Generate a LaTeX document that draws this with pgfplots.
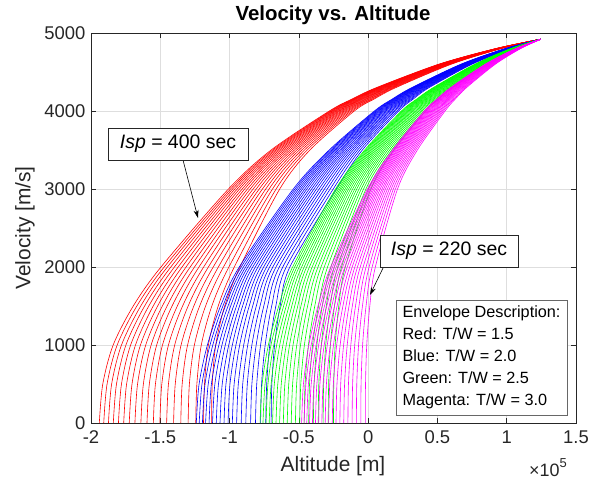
\documentclass[border=0pt]{standalone}
\usepackage{pgfplots}
\pgfplotsset{compat=1.18}
\usepackage{pgfplotstable}
\usepackage{fontspec}
\setmainfont{Liberation Sans}
\usetikzlibrary{arrows.meta}
\definecolor{axgray}{rgb}{0.15,0.15,0.15}
\definecolor{mred}{rgb}{1,0,0}
\definecolor{mblue}{rgb}{0,0,1}
\definecolor{mgreen}{rgb}{0,1,0}
\definecolor{mmag}{rgb}{1,0,1}

\pgfplotstableread{
v c0 c1 c2 c3 c4 c5 c6 c7 c8 c9 c10 c11 c12 c13 c14 c15 c16 c17 c18
0 -1.940 -1.908 -1.874 -1.839 -1.802 -1.764 -1.724 -1.683 -1.640 -1.596 -1.550 -1.503 -1.454 -1.404 -1.352 -1.299 -1.244 -1.188 -1.130
500 -1.915 -1.884 -1.851 -1.816 -1.780 -1.743 -1.704 -1.664 -1.622 -1.579 -1.535 -1.489 -1.441 -1.392 -1.342 -1.290 -1.236 -1.181 -1.125
1000 -1.840 -1.811 -1.780 -1.748 -1.714 -1.679 -1.643 -1.605 -1.566 -1.526 -1.484 -1.441 -1.396 -1.350 -1.303 -1.254 -1.204 -1.153 -1.100
1500 -1.695 -1.669 -1.641 -1.613 -1.583 -1.551 -1.519 -1.485 -1.451 -1.415 -1.377 -1.339 -1.299 -1.258 -1.216 -1.173 -1.128 -1.082 -1.035
2000 -1.495 -1.472 -1.449 -1.424 -1.398 -1.371 -1.343 -1.314 -1.284 -1.253 -1.221 -1.187 -1.153 -1.118 -1.081 -1.044 -1.005 -0.966 -0.925
3000 -1.008 -0.993 -0.978 -0.962 -0.945 -0.928 -0.909 -0.891 -0.871 -0.851 -0.830 -0.808 -0.786 -0.763 -0.739 -0.715 -0.690 -0.664 -0.638
3500 -0.700 -0.689 -0.677 -0.665 -0.652 -0.639 -0.625 -0.611 -0.596 -0.581 -0.565 -0.549 -0.532 -0.515 -0.497 -0.478 -0.459 -0.440 -0.420
4000 -0.280 -0.273 -0.265 -0.258 -0.249 -0.241 -0.232 -0.223 -0.213 -0.204 -0.193 -0.183 -0.172 -0.161 -0.149 -0.138 -0.125 -0.113 -0.100
4150 -0.120 -0.114 -0.107 -0.100 -0.093 -0.085 -0.077 -0.069 -0.061 -0.052 -0.043 -0.034 -0.024 -0.014 -0.004 0.007 0.018 0.029 0.040
4300 0.060 0.066 0.071 0.078 0.084 0.091 0.097 0.105 0.112 0.120 0.127 0.136 0.144 0.153 0.162 0.171 0.180 0.190 0.200
4600 0.510 0.514 0.517 0.521 0.525 0.530 0.534 0.539 0.543 0.548 0.553 0.559 0.564 0.570 0.575 0.581 0.587 0.594 0.600
4800 0.920 0.922 0.923 0.925 0.927 0.929 0.931 0.933 0.935 0.937 0.939 0.942 0.944 0.947 0.949 0.952 0.954 0.957 0.960
4920 1.245 1.245 1.245 1.245 1.245 1.245 1.245 1.245 1.245 1.245 1.245 1.245 1.245 1.245 1.245 1.245 1.245 1.245 1.245
}\redtab

\pgfplotstableread{
v c0 c1 c2 c3 c4 c5 c6 c7 c8 c9 c10 c11 c12 c13 c14 c15 c16 c17 c18
0 -1.240 -1.219 -1.196 -1.173 -1.148 -1.123 -1.096 -1.069 -1.040 -1.011 -0.980 -0.949 -0.916 -0.883 -0.848 -0.813 -0.776 -0.739 -0.700
500 -1.220 -1.199 -1.177 -1.154 -1.131 -1.106 -1.080 -1.053 -1.026 -0.997 -0.967 -0.937 -0.905 -0.872 -0.839 -0.804 -0.769 -0.732 -0.695
1000 -1.160 -1.141 -1.121 -1.099 -1.077 -1.055 -1.031 -1.006 -0.980 -0.954 -0.927 -0.898 -0.869 -0.839 -0.808 -0.776 -0.743 -0.710 -0.675
1500 -1.065 -1.048 -1.030 -1.011 -0.992 -0.971 -0.950 -0.928 -0.906 -0.882 -0.858 -0.833 -0.807 -0.780 -0.753 -0.725 -0.696 -0.666 -0.635
2000 -0.930 -0.916 -0.900 -0.884 -0.868 -0.851 -0.833 -0.814 -0.795 -0.775 -0.754 -0.733 -0.711 -0.688 -0.665 -0.641 -0.616 -0.591 -0.565
3000 -0.540 -0.528 -0.515 -0.501 -0.487 -0.473 -0.457 -0.442 -0.425 -0.408 -0.391 -0.373 -0.354 -0.335 -0.315 -0.295 -0.274 -0.252 -0.230
3500 -0.281 -0.272 -0.262 -0.251 -0.240 -0.229 -0.217 -0.205 -0.193 -0.179 -0.166 -0.152 -0.138 -0.123 -0.108 -0.092 -0.076 -0.059 -0.042
4000 0.045 0.052 0.059 0.067 0.075 0.083 0.092 0.101 0.110 0.119 0.129 0.140 0.150 0.161 0.172 0.184 0.195 0.208 0.220
4150 0.171 0.177 0.183 0.190 0.197 0.204 0.212 0.219 0.227 0.236 0.244 0.253 0.262 0.272 0.281 0.291 0.302 0.312 0.323
4300 0.315 0.320 0.325 0.331 0.336 0.342 0.348 0.355 0.361 0.368 0.375 0.383 0.390 0.398 0.406 0.414 0.422 0.431 0.440
4600 0.670 0.673 0.677 0.680 0.684 0.687 0.691 0.695 0.700 0.704 0.709 0.713 0.718 0.723 0.728 0.733 0.739 0.744 0.750
4800 0.990 0.992 0.993 0.995 0.997 0.999 1.001 1.003 1.005 1.007 1.009 1.012 1.014 1.017 1.019 1.022 1.024 1.027 1.030
4920 1.245 1.245 1.245 1.245 1.245 1.245 1.245 1.245 1.245 1.245 1.245 1.245 1.245 1.245 1.245 1.245 1.245 1.245 1.245
}\bluetab

\pgfplotstableread{
v c0 c1 c2 c3 c4 c5 c6 c7 c8 c9 c10 c11 c12 c13 c14 c15 c16 c17 c18
0 -0.780 -0.759 -0.737 -0.714 -0.690 -0.665 -0.639 -0.612 -0.584 -0.555 -0.525 -0.494 -0.462 -0.429 -0.395 -0.360 -0.325 -0.288 -0.250
500 -0.765 -0.744 -0.723 -0.700 -0.677 -0.652 -0.627 -0.601 -0.573 -0.545 -0.516 -0.486 -0.455 -0.423 -0.390 -0.356 -0.321 -0.285 -0.248
1000 -0.720 -0.701 -0.681 -0.660 -0.638 -0.615 -0.591 -0.567 -0.542 -0.515 -0.488 -0.460 -0.431 -0.401 -0.370 -0.338 -0.306 -0.272 -0.238
1500 -0.645 -0.628 -0.610 -0.591 -0.571 -0.551 -0.530 -0.508 -0.485 -0.461 -0.437 -0.411 -0.385 -0.358 -0.331 -0.302 -0.273 -0.243 -0.212
2000 -0.545 -0.530 -0.514 -0.498 -0.480 -0.462 -0.444 -0.424 -0.404 -0.384 -0.362 -0.340 -0.317 -0.293 -0.269 -0.244 -0.219 -0.192 -0.165
3000 -0.235 -0.225 -0.214 -0.203 -0.192 -0.180 -0.167 -0.154 -0.141 -0.127 -0.112 -0.097 -0.082 -0.066 -0.050 -0.033 -0.016 0.002 0.020
3500 -0.025 -0.017 -0.008 0.001 0.011 0.021 0.031 0.042 0.053 0.064 0.076 0.088 0.101 0.114 0.127 0.141 0.156 0.170 0.185
4000 0.240 0.247 0.254 0.262 0.270 0.278 0.287 0.296 0.305 0.314 0.324 0.335 0.345 0.356 0.367 0.379 0.390 0.403 0.415
4150 0.348 0.354 0.361 0.368 0.375 0.382 0.390 0.398 0.407 0.415 0.424 0.433 0.443 0.453 0.463 0.473 0.484 0.495 0.506
4300 0.470 0.476 0.481 0.488 0.494 0.501 0.507 0.515 0.522 0.530 0.537 0.546 0.554 0.563 0.572 0.581 0.590 0.600 0.610
4600 0.770 0.774 0.777 0.781 0.785 0.790 0.794 0.799 0.803 0.808 0.813 0.819 0.824 0.830 0.835 0.841 0.847 0.854 0.860
4800 1.030 1.032 1.034 1.036 1.038 1.040 1.042 1.044 1.047 1.049 1.052 1.054 1.057 1.060 1.063 1.066 1.069 1.072 1.075
4920 1.245 1.245 1.245 1.245 1.245 1.245 1.245 1.245 1.245 1.245 1.245 1.245 1.245 1.245 1.245 1.245 1.245 1.245 1.245
}\greentab

\pgfplotstableread{
v c0 c1 c2 c3 c4 c5 c6 c7 c8 c9 c10 c11 c12 c13 c14 c15 c16 c17 c18
0 -0.480 -0.462 -0.443 -0.423 -0.402 -0.380 -0.357 -0.334 -0.310 -0.285 -0.259 -0.232 -0.204 -0.176 -0.146 -0.116 -0.085 -0.053 -0.020
500 -0.467 -0.449 -0.431 -0.411 -0.391 -0.370 -0.348 -0.325 -0.301 -0.277 -0.251 -0.225 -0.198 -0.170 -0.142 -0.112 -0.082 -0.051 -0.019
1000 -0.428 -0.411 -0.394 -0.376 -0.357 -0.337 -0.317 -0.295 -0.273 -0.250 -0.227 -0.202 -0.177 -0.151 -0.125 -0.097 -0.069 -0.040 -0.010
1500 -0.362 -0.347 -0.332 -0.315 -0.298 -0.281 -0.262 -0.243 -0.224 -0.203 -0.182 -0.160 -0.138 -0.114 -0.091 -0.066 -0.041 -0.015 0.012
2000 -0.270 -0.257 -0.244 -0.230 -0.215 -0.200 -0.184 -0.168 -0.151 -0.133 -0.115 -0.096 -0.077 -0.057 -0.036 -0.015 0.007 0.029 0.052
3000 -0.005 0.004 0.013 0.022 0.032 0.042 0.053 0.064 0.075 0.087 0.100 0.112 0.125 0.139 0.153 0.167 0.182 0.197 0.212
3500 0.176 0.183 0.191 0.198 0.207 0.215 0.224 0.233 0.242 0.252 0.262 0.273 0.283 0.295 0.306 0.318 0.330 0.342 0.355
4000 0.405 0.411 0.417 0.424 0.431 0.438 0.445 0.453 0.461 0.469 0.477 0.486 0.495 0.504 0.514 0.524 0.534 0.544 0.555
4150 0.494 0.499 0.505 0.511 0.517 0.523 0.530 0.536 0.543 0.551 0.558 0.566 0.574 0.582 0.591 0.599 0.608 0.618 0.627
4300 0.595 0.600 0.604 0.609 0.615 0.620 0.626 0.632 0.638 0.644 0.650 0.657 0.664 0.671 0.679 0.686 0.694 0.702 0.710
4600 0.845 0.848 0.851 0.854 0.857 0.861 0.865 0.868 0.872 0.876 0.880 0.884 0.889 0.893 0.898 0.903 0.908 0.913 0.918
4800 1.065 1.066 1.068 1.069 1.071 1.073 1.074 1.076 1.078 1.080 1.082 1.084 1.086 1.088 1.090 1.093 1.095 1.098 1.100
4920 1.245 1.245 1.245 1.245 1.245 1.245 1.245 1.245 1.245 1.245 1.245 1.245 1.245 1.245 1.245 1.245 1.245 1.245 1.245
}\magtab

\begin{document}
\begin{tikzpicture}
\useasboundingbox (-91bp,-64bp) rectangle (501bp,423bp);
\begin{axis}[
  at={(0,0)}, anchor=south west,
  width=485bp, height=390bp, scale only axis,
  xmin=-2, xmax=1.5, ymin=0, ymax=5000,
  xtick={-2,-1.5,-1,-0.5,0,0.5,1,1.5},
  xticklabels={-2,-1.5,-1,-0.5,0,0.5,1,1.5},
  ytick={0,1000,2000,3000,4000,5000},
  yticklabels={0,1000,2000,3000,4000,5000},
  grid=major, major grid style={black!13, line width=0.5bp},
  tick align=inside, major tick length=5bp,
  axis line style={axgray, line width=0.6bp},
  every tick/.style={axgray, line width=0.6bp},
  ticklabel style={font=\fontsize{18.5}{18.5}\selectfont, text=axgray},
  xticklabel style={yshift=-4bp},
  yticklabel style={xshift=-2bp},
]
\pgfplotsinvokeforeach{0,...,18}{
  \addplot[mred, line width=0.6bp, smooth] table[x=c#1, y=v] {\redtab};
}
\pgfplotsinvokeforeach{0,...,18}{
  \addplot[mblue, line width=0.6bp, smooth] table[x=c#1, y=v] {\bluetab};
}
\pgfplotsinvokeforeach{0,...,18}{
  \addplot[mgreen, line width=0.6bp, smooth] table[x=c#1, y=v] {\greentab};
}
\pgfplotsinvokeforeach{0,...,18}{
  \addplot[mmag, line width=0.6bp, smooth] table[x=c#1, y=v] {\magtab};
}
\end{axis}
% title and labels
\node[font=\fontsize{20.5}{22}\selectfont\bfseries, text=black] at (242bp,408bp) {Velocity vs. Altitude};
\node[font=\fontsize{21}{22}\selectfont, text=axgray] at (242bp,-43bp) {Altitude [m]};
\node[font=\fontsize{21}{22}\selectfont, text=axgray, rotate=90] at (-66bp,195bp) {Velocity [m/s]};
\node[font=\fontsize{18}{18}\selectfont, text=axgray] at (457bp,-45bp) {×10\raisebox{0.5em}{\fontsize{13}{13}\selectfont 5}};
% annotations
\draw[black, line width=0.6bp, -{Stealth[length=8bp,width=5bp]}] (92bp,263bp) -- (107bp,205bp);
\node[draw=axgray, fill=white, line width=0.6bp, minimum width=140bp, minimum height=32bp, font=\fontsize{19.5}{21}\selectfont] at (87bp,279bp) {\textit{Isp} = 400 sec};
\draw[black, line width=0.6bp, -{Stealth[length=8bp,width=5bp]}] (293bp,157bp) -- (279bp,128bp);
\node[draw=axgray, fill=white, line width=0.6bp, minimum width=138bp, minimum height=32bp, font=\fontsize{19.5}{21}\selectfont] at (358bp,172bp) {\textit{Isp} = 220 sec};
\node[draw=axgray!70, fill=white, line width=0.6bp, minimum width=171bp, minimum height=115bp, align=left, font=\fontsize{16.3}{22}\selectfont, inner sep=3bp] at (390.5bp,65.5bp) {Envelope Description:\\Red: T/W = 1.5\\Blue: T/W = 2.0\\Green: T/W = 2.5\\Magenta: T/W = 3.0};
\end{tikzpicture}
\end{document}
